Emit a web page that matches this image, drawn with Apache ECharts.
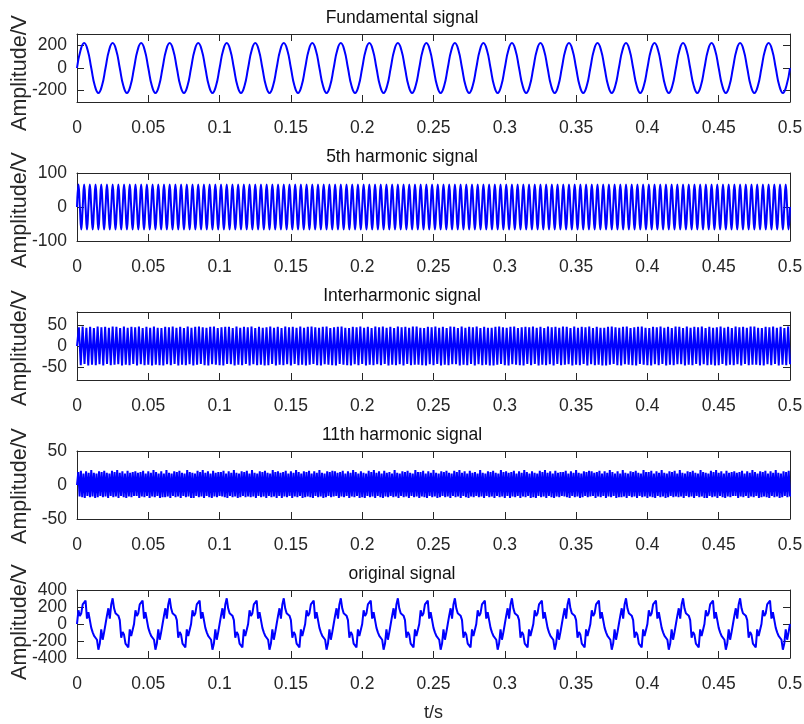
<!DOCTYPE html>
<html>
<head>
<meta charset="utf-8">
<script src="https://cdn.jsdelivr.net/npm/echarts@6/dist/echarts.min.js"></script>
<style>html,body{margin:0;padding:0;background:#fff}#c{width:804px;height:724px}</style>
</head>
<body>
<div id="c"></div>
<script>
// ---- Data ----
const titles = ['Fundamental signal', '5th harmonic signal', 'Interharmonic signal', '11th harmonic signal', 'original signal'];
const yName = 'Amplitude/V';
const xName = 't/s';
const xTicks = [0, 0.05, 0.1, 0.15, 0.2, 0.25, 0.3, 0.35, 0.4, 0.45, 0.5];
const yTicks1 = [-200, 0, 200];
const yTicks2 = [-100, 0, 100];
const yTicks3 = [-50, 0, 50];
const yTicks4 = [-50, 0, 50];
const yTicks5 = [-400, -200, 0, 200, 400];
const yLimits = [[-300, 300], [-100, 100], [-80, 80], [-50, 50], [-400, 400]];
// sample spacing (s) of each recorded series
const sampleStep = [0.0025, 0.001, 0.5 / 380, 0.5 / 550, 0.001];

// Fundamental signal (amplitude ~220 V, 25 cycles)
const fundamental = [
0,156,220,156,0,-156,-220,-156,0,156,220,156,0,-156,-220,-156,0,156,220,156,0,-156,-220,-156,0,156,220,156,0,-156,-220,-156,0,156,220,156,0,-156,-220,-156,
0,156,220,156,0,-156,-220,-156,0,156,220,156,0,-156,-220,-156,0,156,220,156,0,-156,-220,-156,0,156,220,156,0,-156,-220,-156,0,156,220,156,0,-156,-220,-156,
0,156,220,156,0,-156,-220,-156,0,156,220,156,0,-156,-220,-156,0,156,220,156,0,-156,-220,-156,0,156,220,156,0,-156,-220,-156,0,156,220,156,0,-156,-220,-156,
0,156,220,156,0,-156,-220,-156,0,156,220,156,0,-156,-220,-156,0,156,220,156,0,-156,-220,-156,0,156,220,156,0,-156,-220,-156,0,156,220,156,0,-156,-220,-156,
0,156,220,156,0,-156,-220,-156,0,156,220,156,0,-156,-220,-156,0,156,220,156,0,-156,-220,-156,0,156,220,156,0,-156,-220,-156,0,156,220,156,0,-156,-220,-156,
0];

// 5th harmonic signal (amplitude ~66 V, 125 cycles)
const harmonic5 = [
0,66,0,-66,0,66,0,-66,0,66,0,-66,0,66,0,-66,0,66,0,-66,0,66,0,-66,0,66,0,-66,0,66,0,-66,0,66,0,-66,0,66,0,-66,
0,66,0,-66,0,66,0,-66,0,66,0,-66,0,66,0,-66,0,66,0,-66,0,66,0,-66,0,66,0,-66,0,66,0,-66,0,66,0,-66,0,66,0,-66,
0,66,0,-66,0,66,0,-66,0,66,0,-66,0,66,0,-66,0,66,0,-66,0,66,0,-66,0,66,0,-66,0,66,0,-66,0,66,0,-66,0,66,0,-66,
0,66,0,-66,0,66,0,-66,0,66,0,-66,0,66,0,-66,0,66,0,-66,0,66,0,-66,0,66,0,-66,0,66,0,-66,0,66,0,-66,0,66,0,-66,
0,66,0,-66,0,66,0,-66,0,66,0,-66,0,66,0,-66,0,66,0,-66,0,66,0,-66,0,66,0,-66,0,66,0,-66,0,66,0,-66,0,66,0,-66,
0,66,0,-66,0,66,0,-66,0,66,0,-66,0,66,0,-66,0,66,0,-66,0,66,0,-66,0,66,0,-66,0,66,0,-66,0,66,0,-66,0,66,0,-66,
0,66,0,-66,0,66,0,-66,0,66,0,-66,0,66,0,-66,0,66,0,-66,0,66,0,-66,0,66,0,-66,0,66,0,-66,0,66,0,-66,0,66,0,-66,
0,66,0,-66,0,66,0,-66,0,66,0,-66,0,66,0,-66,0,66,0,-66,0,66,0,-66,0,66,0,-66,0,66,0,-66,0,66,0,-66,0,66,0,-66,
0,66,0,-66,0,66,0,-66,0,66,0,-66,0,66,0,-66,0,66,0,-66,0,66,0,-66,0,66,0,-66,0,66,0,-66,0,66,0,-66,0,66,0,-66,
0,66,0,-66,0,66,0,-66,0,66,0,-66,0,66,0,-66,0,66,0,-66,0,66,0,-66,0,66,0,-66,0,66,0,-66,0,66,0,-66,0,66,0,-66,
0,66,0,-66,0,66,0,-66,0,66,0,-66,0,66,0,-66,0,66,0,-66,0,66,0,-66,0,66,0,-66,0,66,0,-66,0,66,0,-66,0,66,0,-66,
0,66,0,-66,0,66,0,-66,0,66,0,-66,0,66,0,-66,0,66,0,-66,0,66,0,-66,0,66,0,-66,0,66,0,-66,0,66,0,-66,0,66,0,-66,
0,66,0,-66,0,66,0,-66,0,66,0,-66,0,66,0,-66,0,66,0,-66,
0];

// Interharmonic signal (amplitude ~45 V, peak/trough values, 190 cycles)
const interharmonic = [0,
44,-45,46,-42,43,-46,45,-44,42,-45,46,-43,44,-46,45,-42,43,-45,46,-44,
45,-43,42,-46,46,-44,43,-45,45,-42,44,-46,46,-43,42,-45,45,-44,43,-46,
46,-44,43,-45,42,-46,45,-43,44,-45,46,-42,43,-46,45,-44,42,-45,46,-43,
43,-46,45,-44,46,-42,44,-45,43,-46,45,-43,46,-44,42,-45,44,-46,45,-42,
45,-43,42,-46,46,-44,43,-45,45,-42,44,-46,46,-43,42,-45,45,-44,43,-46,
44,-45,46,-42,43,-46,45,-44,42,-45,46,-43,44,-46,45,-42,43,-45,46,-44,
43,-46,45,-44,46,-42,44,-45,43,-46,45,-43,46,-44,42,-45,44,-46,45,-42,
46,-44,43,-45,42,-46,45,-43,44,-45,46,-42,43,-46,45,-44,42,-45,46,-43,
44,-45,46,-42,43,-46,45,-44,42,-45,46,-43,44,-46,45,-42,43,-45,46,-44,
46,-44,43,-45,42,-46,45,-43,44,-45,46,-42,43,-46,45,-44,42,-45,46,-43,
45,-43,42,-46,46,-44,43,-45,45,-42,44,-46,46,-43,42,-45,45,-44,43,-46,
43,-46,45,-44,46,-42,44,-45,43,-46,45,-43,46,-44,42,-45,44,-46,45,-42,
44,-45,46,-42,43,-46,45,-44,42,-45,46,-43,44,-46,45,-42,43,-45,46,-44,
45,-43,42,-46,46,-44,43,-45,45,-42,44,-46,46,-43,42,-45,45,-44,43,-46,
43,-46,45,-44,46,-42,44,-45,43,-46,45,-43,46,-44,42,-45,44,-46,45,-42,
46,-44,43,-45,42,-46,45,-43,44,-45,46,-42,43,-46,45,-44,42,-45,46,-43,
45,-43,42,-46,46,-44,43,-45,45,-42,44,-46,46,-43,42,-45,45,-44,43,-46,
44,-45,46,-42,43,-46,45,-44,42,-45,46,-43,44,-46,45,-42,43,-45,46,-44,
46,-44,43,-45,42,-46,45,-43,44,-45,46,-42,43,-46,45,-44,42,-45,46,-43];

// 11th harmonic signal (amplitude ~18-22 V, peak/trough values, 275 cycles)
const harmonic11 = [0,
19,-17,21,-18,17,-19,20,-16,18,-18,22,-17,18,-19,17,-18,20,-16,19,-18,21,-17,
18,-19,17,-16,21,-18,19,-17,22,-19,18,-16,20,-18,17,-19,21,-17,18,-18,19,-16,
20,-16,18,-19,19,-17,21,-18,17,-16,20,-19,18,-17,22,-18,19,-16,17,-19,20,-18,
17,-18,22,-17,18,-19,17,-16,20,-18,19,-17,21,-19,18,-16,17,-18,22,-17,19,-19,
18,-19,17,-16,21,-18,19,-17,22,-19,18,-16,20,-18,17,-19,21,-17,18,-18,19,-16,
19,-17,21,-18,17,-19,20,-16,18,-18,22,-17,18,-19,17,-18,20,-16,19,-18,21,-17,
17,-18,22,-17,18,-19,17,-16,20,-18,19,-17,21,-19,18,-16,17,-18,22,-17,19,-19,
20,-16,18,-19,19,-17,21,-18,17,-16,20,-19,18,-17,22,-18,19,-16,17,-19,20,-18,
19,-17,21,-18,17,-19,20,-16,18,-18,22,-17,18,-19,17,-18,20,-16,19,-18,21,-17,
20,-16,18,-19,19,-17,21,-18,17,-16,20,-19,18,-17,22,-18,19,-16,17,-19,20,-18,
18,-19,17,-16,21,-18,19,-17,22,-19,18,-16,20,-18,17,-19,21,-17,18,-18,19,-16,
17,-18,22,-17,18,-19,17,-16,20,-18,19,-17,21,-19,18,-16,17,-18,22,-17,19,-19,
19,-17,21,-18,17,-19,20,-16,18,-18,22,-17,18,-19,17,-18,20,-16,19,-18,21,-17,
18,-19,17,-16,21,-18,19,-17,22,-19,18,-16,20,-18,17,-19,21,-17,18,-18,19,-16,
17,-18,22,-17,18,-19,17,-16,20,-18,19,-17,21,-19,18,-16,17,-18,22,-17,19,-19,
20,-16,18,-19,19,-17,21,-18,17,-16,20,-19,18,-17,22,-18,19,-16,17,-19,20,-18,
18,-19,17,-16,21,-18,19,-17,22,-19,18,-16,20,-18,17,-19,21,-17,18,-18,19,-16,
19,-17,21,-18,17,-19,20,-16,18,-18,22,-17,18,-19,17,-18,20,-16,19,-18,21,-17,
20,-16,18,-19,19,-17,21,-18,17,-16,20,-19,18,-17,22,-18,19,-16,17,-19,20,-18,
17,-18,22,-17,18,-19,17,-16,20,-18,19,-17,21,-19,18,-16,17,-18,22,-17,19,-19,
19,-17,21,-18,17,-19,20,-16,18,-18,22,-17,18,-19,17,-18,20,-16,19,-18,21,-17,
17,-18,22,-17,18,-19,17,-16,20,-18,19,-17,21,-19,18,-16,17,-18,22,-17,19,-19,
18,-19,17,-16,21,-18,19,-17,22,-19,18,-16,20,-18,17,-19,21,-17,18,-18,19,-16,
20,-16,18,-19,19,-17,21,-18,17,-16,20,-19,18,-17,22,-18,19,-16,17,-19,20,-18,
19,-17,21,-18,17,-19,20,-16,18,-18,22,-17,18,-19,17,-18,20,-16,19,-18,21,-17];

// Original (composite) signal, 1 ms samples
const original = [
0,162,95,127,230,238,275,63,140,162,-45,-98,-140,-127,-185,-302,-230,-63,-185,-98,
0,98,185,63,230,302,185,127,140,98,45,-162,-95,-127,-230,-238,-275,-63,-140,-162,
0,162,95,127,230,238,275,63,140,162,-45,-98,-140,-127,-185,-302,-230,-63,-185,-98,
0,98,185,63,230,302,185,127,140,98,45,-162,-95,-127,-230,-238,-275,-63,-140,-162,
0,162,95,127,230,238,275,63,140,162,-45,-98,-140,-127,-185,-302,-230,-63,-185,-98,
0,98,185,63,230,302,185,127,140,98,45,-162,-95,-127,-230,-238,-275,-63,-140,-162,
0,162,95,127,230,238,275,63,140,162,-45,-98,-140,-127,-185,-302,-230,-63,-185,-98,
0,98,185,63,230,302,185,127,140,98,45,-162,-95,-127,-230,-238,-275,-63,-140,-162,
0,162,95,127,230,238,275,63,140,162,-45,-98,-140,-127,-185,-302,-230,-63,-185,-98,
0,98,185,63,230,302,185,127,140,98,45,-162,-95,-127,-230,-238,-275,-63,-140,-162,
0,162,95,127,230,238,275,63,140,162,-45,-98,-140,-127,-185,-302,-230,-63,-185,-98,
0,98,185,63,230,302,185,127,140,98,45,-162,-95,-127,-230,-238,-275,-63,-140,-162,
0,162,95,127,230,238,275,63,140,162,-45,-98,-140,-127,-185,-302,-230,-63,-185,-98,
0,98,185,63,230,302,185,127,140,98,45,-162,-95,-127,-230,-238,-275,-63,-140,-162,
0,162,95,127,230,238,275,63,140,162,-45,-98,-140,-127,-185,-302,-230,-63,-185,-98,
0,98,185,63,230,302,185,127,140,98,45,-162,-95,-127,-230,-238,-275,-63,-140,-162,
0,162,95,127,230,238,275,63,140,162,-45,-98,-140,-127,-185,-302,-230,-63,-185,-98,
0,98,185,63,230,302,185,127,140,98,45,-162,-95,-127,-230,-238,-275,-63,-140,-162,
0,162,95,127,230,238,275,63,140,162,-45,-98,-140,-127,-185,-302,-230,-63,-185,-98,
0,98,185,63,230,302,185,127,140,98,45,-162,-95,-127,-230,-238,-275,-63,-140,-162,
0,162,95,127,230,238,275,63,140,162,-45,-98,-140,-127,-185,-302,-230,-63,-185,-98,
0,98,185,63,230,302,185,127,140,98,45,-162,-95,-127,-230,-238,-275,-63,-140,-162,
0,162,95,127,230,238,275,63,140,162,-45,-98,-140,-127,-185,-302,-230,-63,-185,-98,
0,98,185,63,230,302,185,127,140,98,45,-162,-95,-127,-230,-238,-275,-63,-140,-162,
0,162,95,127,230,238,275,63,140,162,-45,-98,-140,-127,-185,-302,-230,-63,-185,-98,
0];

const seriesValues = [fundamental, harmonic5, interharmonic, harmonic11, original];
const yTickSets = [yTicks1, yTicks2, yTicks3, yTicks4, yTicks5];
const smoothFlags = [true, true, false, false, false];

// ---- Layout / style ----
const FONT = 'Liberation Sans, Arial, Helvetica, sans-serif';
const AX = '#262626';
const gridTops = [34, 173, 312, 451, 590];
const gridH = 68, gridL = 77, gridW = 713;
const yNameCenters = [73, 210, 348, 486, 622];

const grids = [], xAxes = [], yAxes = [], series = [], graphics = [];
const fmtX = v => String(Math.round(v * 100) / 100);
const labelStyle = { fontSize: 17.5, lineHeight: 14, fontFamily: FONT, color: AX, margin: 10,
                     showMinLabel: true, showMaxLabel: true, hideOverlap: false };

for (let i = 0; i < 5; i++) {
  grids.push({ left: gridL, top: gridTops[i], width: gridW, height: gridH, containLabel: false, outerBoundsMode: 'none' });
  const xBase = {
    type: 'value', gridIndex: i, min: 0, max: 0.5, interval: 0.05,
    axisLine: { show: true, onZero: false, lineStyle: { color: AX, width: 1 } },
    axisTick: { show: true, inside: true, length: 7, lineStyle: { color: AX }, customValues: xTicks },
    splitLine: { show: false }
  };
  xAxes.push(Object.assign({}, xBase, {
    position: 'bottom',
    axisLabel: { show: true, customValues: xTicks, formatter: fmtX, fontSize: 17.5, fontFamily: FONT, color: AX, margin: 17,
                 showMinLabel: true, showMaxLabel: true, hideOverlap: false },
    name: i === 4 ? xName : '', nameLocation: 'middle', nameGap: 46,
    nameTextStyle: { fontSize: 18, fontFamily: FONT, color: AX }
  }));
  xAxes.push(Object.assign({}, xBase, { position: 'top', axisLabel: { show: false }, name: '' }));
  const yb = {
    type: 'value', gridIndex: i, min: yLimits[i][0], max: yLimits[i][1],
    axisLine: { show: true, onZero: false, lineStyle: { color: AX, width: 1 } },
    axisTick: { show: true, inside: true, length: 7, lineStyle: { color: AX }, customValues: yTickSets[i] },
    splitLine: { show: false }
  };
  // tightly packed labels are split over two label axes so that none is dropped
  const ticks = yTickSets[i];
  const setA = ticks.filter((v, k) => k % 2 === 0);
  const setB = ticks.filter((v, k) => k % 2 === 1);
  yAxes.push(Object.assign({}, yb, {
    position: 'left',
    axisLabel: Object.assign({ show: true, customValues: setA }, labelStyle),
    name: ''
  }));
  yAxes.push(Object.assign({}, yb, { position: 'right', axisLabel: { show: false }, name: '' }));
  yAxes.push(Object.assign({}, yb, {
    position: 'left', offset: 0,
    axisLine: { show: false }, axisTick: { show: false },
    axisLabel: Object.assign({ show: true, customValues: setB }, labelStyle),
    name: ''
  }));

  const dt = sampleStep[i];
  series.push({
    type: 'line', xAxisIndex: 2 * i, yAxisIndex: 3 * i, showSymbol: false, symbol: 'none',
    smooth: smoothFlags[i] ? 0.5 : false, animation: false,
    lineStyle: { color: '#0000ff', width: 2 },
    data: seriesValues[i].map((v, k) => [k * dt, v])
  });
  graphics.push({
    type: 'text', x: 402, y: gridTops[i] - 16,
    style: { text: titles[i], fill: '#111', fontSize: 17.5, fontFamily: FONT, align: 'center', verticalAlign: 'middle' }
  });
  graphics.push({
    type: 'text', x: 20, y: yNameCenters[i], rotation: Math.PI / 2,
    style: { text: yName, fill: AX, fontSize: 21.5, fontFamily: FONT, align: 'center', verticalAlign: 'middle' }
  });
}

const chart = echarts.init(document.getElementById('c'), null, { renderer: 'canvas' });
chart.setOption({
  animation: false,
  backgroundColor: '#fff',
  grid: grids, xAxis: xAxes, yAxis: yAxes, series: series, graphic: graphics
});
</script>
</body>
</html>
